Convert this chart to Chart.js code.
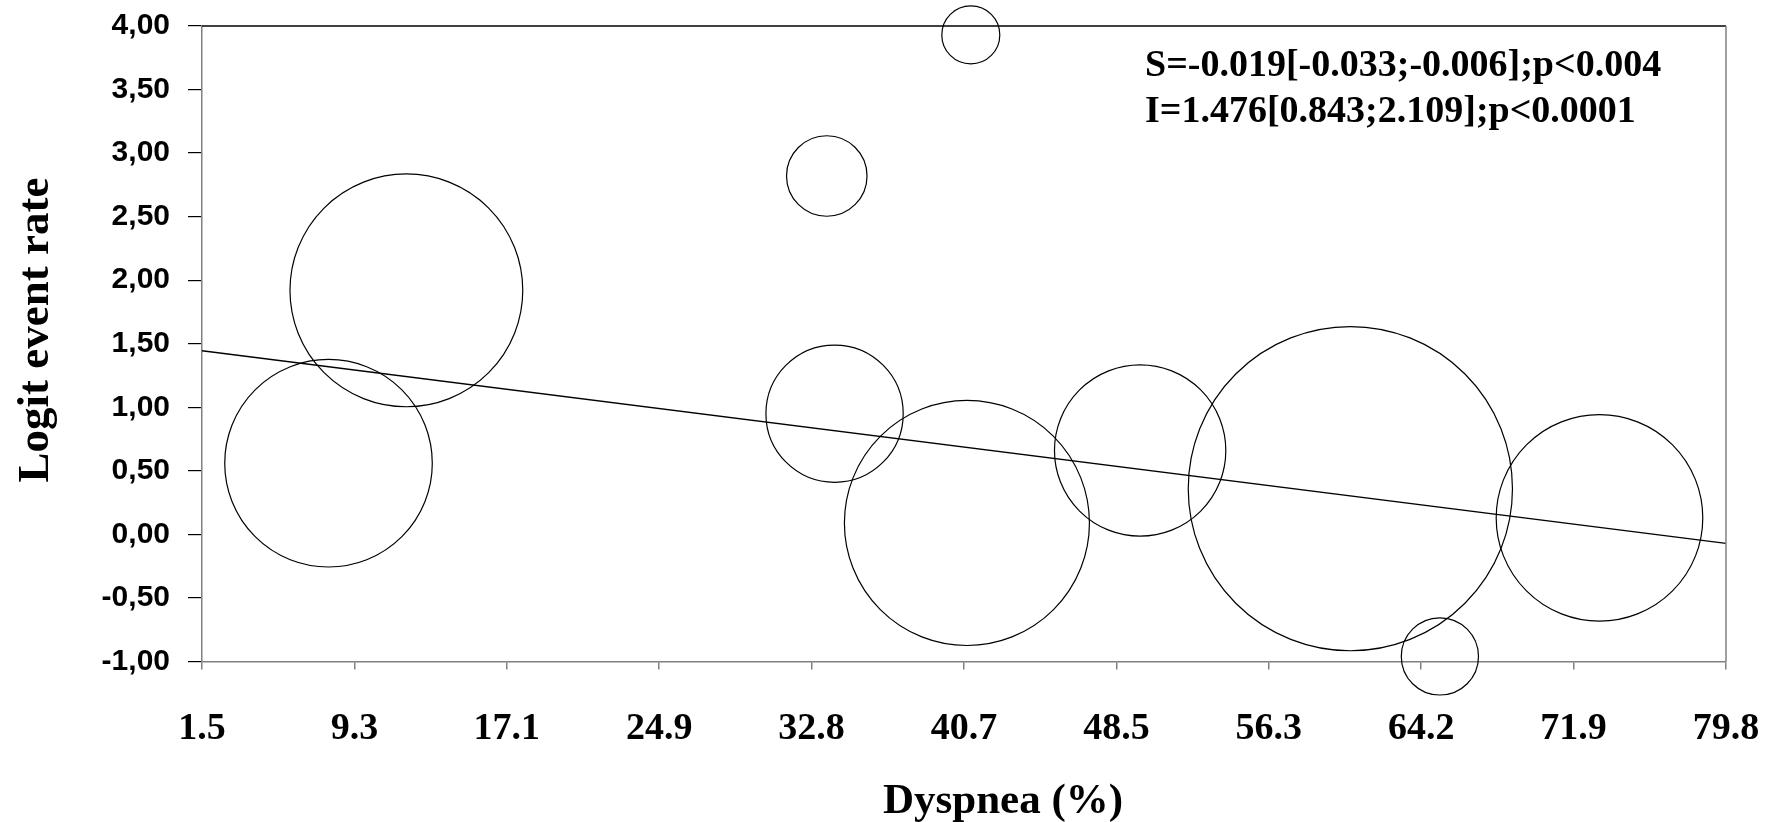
<!DOCTYPE html>
<html>
<head>
<meta charset="utf-8">
<script src="https://cdn.jsdelivr.net/npm/chart.js@4.4.1/dist/chart.umd.min.js"></script>
<style>
  html, body { margin: 0; padding: 0; background: #fff; }
  #wrap { width: 1766px; height: 822px; }
</style>
</head>
<body>
<div id="wrap"><canvas id="bubbleChart"></canvas></div>
<script>
// one bubble per study: dyspnea %, logit event rate, study weight (bubble area)
const dyspnea = [8.0, 12.0, 33.6, 34.0, 41.0, 40.8, 49.7, 60.5, 65.1, 73.3];
const logitRate = [0.56, 1.92, 2.82, 0.95, 3.93, 0.09, 0.66, 0.36, -0.96, 0.13];
const studyWeight = [107.7, 135.5, 16.2, 47.1, 8.4, 150.1, 73.4, 262.8, 14.9, 106.7];

// regression line end points
const fitX = [1.5, 79.8];
const fitY = [1.445, -0.07];

const xTickLabels = ['1.5', '9.3', '17.1', '24.9', '32.8', '40.7', '48.5', '56.3', '64.2', '71.9', '79.8'];
const yTickLabels = ['-1,00', '-0,50', '0,00', '0,50', '1,00', '1,50', '2,00', '2,50', '3,00', '3,50', '4,00'];
const statLines = ['S=-0.019[-0.033;-0.006];p<0.004', 'I=1.476[0.843;2.109];p<0.0001'];

const xMin = 1.5, xMax = 79.8;
const serif = '"Liberation Serif", "Times New Roman", serif';
const sans = '"Liberation Sans", Arial, sans-serif';

// frame, axis titles and the stats text
const extrasPlugin = {
  id: 'extras',
  afterDraw(chart) {
    const { ctx, chartArea } = chart;
    ctx.save();
    ctx.lineWidth = 1.5;
    ctx.strokeStyle = '#000';
    ctx.beginPath();
    ctx.moveTo(chartArea.left, chartArea.top);
    ctx.lineTo(chartArea.right, chartArea.top);
    ctx.stroke();
    ctx.strokeStyle = '#808080';
    ctx.beginPath();
    ctx.moveTo(chartArea.right, chartArea.top);
    ctx.lineTo(chartArea.right, chartArea.bottom);
    ctx.stroke();

    ctx.fillStyle = '#000';
    ctx.textBaseline = 'alphabetic';

    ctx.font = 'bold 43px ' + serif;
    ctx.textAlign = 'center';
    ctx.fillText('Dyspnea (%)', 1003, 813);

    ctx.save();
    ctx.translate(48, 330);
    ctx.rotate(-Math.PI / 2);
    ctx.font = 'bold 45px ' + serif;
    ctx.fillText('Logit event rate', 0, 0);
    ctx.restore();

    ctx.font = 'bold 38px ' + serif;
    ctx.textAlign = 'left';
    statLines.forEach((line, i) => ctx.fillText(line, 1145, 76 + i * 46));
    ctx.restore();
  }
};

const ctx = document.getElementById('bubbleChart').getContext('2d');
const chart = new Chart(ctx, {
  type: 'bubble',
  data: {
    datasets: [
      {
        type: 'line',
        data: fitX.map((x, i) => ({ x: x, y: fitY[i] })),
        borderColor: '#000',
        borderWidth: 1.3,
        pointRadius: 0,
        fill: false
      },
      {
        data: dyspnea.map((x, i) => ({ x: x, y: logitRate[i], r: 10 * Math.sqrt(studyWeight[i]) })),
        backgroundColor: 'rgba(0,0,0,0)',
        borderColor: '#000',
        borderWidth: 1.2,
        clip: false
      }
    ]
  },
  options: {
    responsive: true,
    maintainAspectRatio: false,
    animation: false,
    events: [],
    layout: { autoPadding: false, padding: { top: 26, right: 40, left: 0, bottom: 0 } },
    plugins: {
      legend: { display: false },
      tooltip: { enabled: false }
    },
    scales: {
      x: {
        type: 'linear',
        min: xMin,
        max: xMax,
        afterBuildTicks: (scale) => {
          scale.ticks = xTickLabels.map((t, i) => ({ value: xMin + i * (xMax - xMin) / (xTickLabels.length - 1) }));
        },
        afterFit: (scale) => {
          scale.height = 160.5;
          scale.paddingLeft = 0;
          scale.paddingRight = 0;
        },
        grid: { drawOnChartArea: false, tickLength: 8, color: '#808080', lineWidth: 1.5 },
        border: { color: '#808080', width: 1.5 },
        ticks: {
          autoSkip: false,
          maxRotation: 0,
          padding: 37,
          color: '#000',
          font: { family: serif, size: 38, weight: 'bold' },
          callback: (v, i) => xTickLabels[i]
        }
      },
      y: {
        type: 'linear',
        min: -1,
        max: 4,
        afterFit: (scale) => {
          scale.width = 202;
          scale.paddingTop = 0;
          scale.paddingBottom = 0;
        },
        grid: { drawOnChartArea: false, tickLength: 14, color: '#000', lineWidth: 1.2 },
        border: { color: '#808080', width: 1.5 },
        ticks: {
          stepSize: 0.5,
          autoSkip: false,
          padding: 18,
          color: '#000',
          font: { family: sans, size: 30, weight: 'bold' },
          callback: (v, i) => yTickLabels[i]
        }
      }
    }
  },
  plugins: [extrasPlugin]
});
</script>
</body>
</html>
